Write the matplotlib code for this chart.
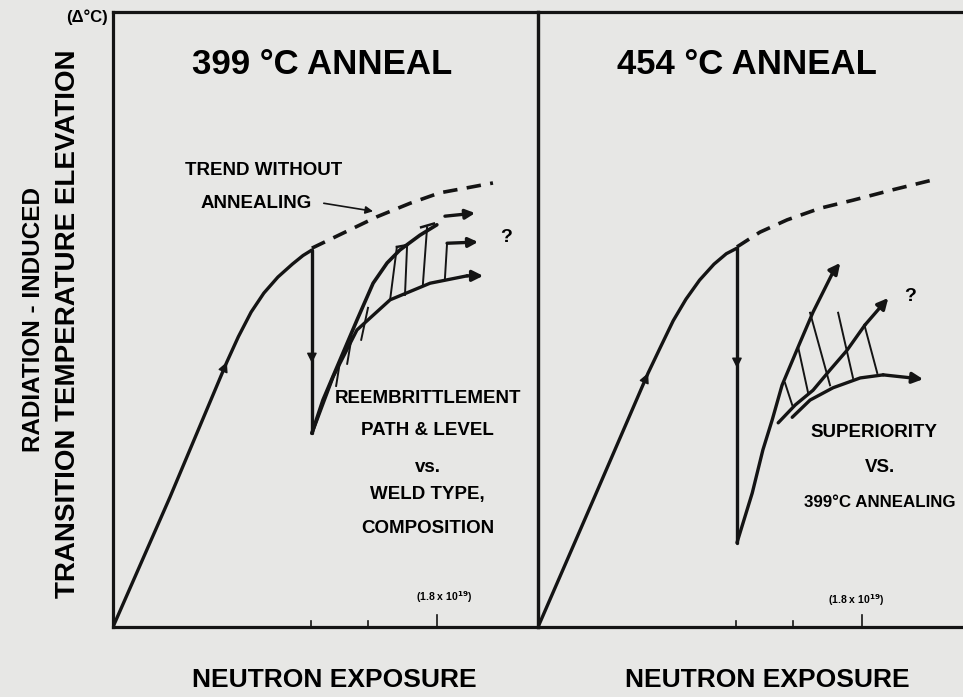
import matplotlib.pyplot as plt

plt.rcParams['font.family'] = ['Liberation Sans', 'DejaVu Sans']
plt.rcParams['font.weight'] = 'bold'

INK = '#141414'
PAPER = '#e7e7e5'

# both axes are in panel units (0-100): neutron exposure across, delta T up
exposure_ticks = [46.6, 60.0, 76.2]
tick_len = [1.0, 1.0, 2.0]

# ---- 399 C anneal ----
irr_x_399 = [0, 13.4, 26.8, 29.5, 32.5, 35.5, 38.8, 42.2, 44.7, 46.8]
irr_y_399 = [0, 21.1, 43.1, 47.2, 51.2, 54.3, 56.9, 59.0, 60.4, 61.3]
drop_399 = [61.3, 31.5]
drop_mark_399 = 42.9
trend_x_399 = [46.8, 54.6, 62.1, 69.9, 76.9, 84.0, 89.4]
trend_y_399 = [61.6, 64.2, 66.7, 68.9, 70.6, 71.5, 72.2]
low_x_399 = [46.8, 48.0, 51.8, 57.4, 65.2, 74.6, 83.3, 87.1]
low_y_399 = [31.5, 33.7, 40.7, 48.3, 53.2, 55.9, 57.1, 57.1]
up_x_399 = [46.8, 49.4, 53.4, 57.4, 61.2, 64.5, 67.5, 72.2, 76.2]
up_y_399 = [31.5, 36.9, 43.4, 49.9, 55.9, 59.2, 61.3, 63.7, 65.4]
top_arrow_399 = [(78.1, 66.8), (85.2, 67.3)]
mid_arrow_399 = [(78.6, 62.4), (85.9, 62.6)]
hatch_399 = [((53.4, 43.1), (52.5, 39.2)),
             ((56.2, 47.3), (55.1, 42.8)),
             ((60.0, 51.9), (58.4, 46.7)),
             ((66.8, 61.8), (65.2, 53.2)),
             ((69.2, 62.1), (68.7, 54.0)),
             ((73.9, 65.0), (72.9, 55.6)),
             ((78.6, 62.4), (78.1, 56.7))]
caps_399 = [((66.8, 61.8), (69.2, 62.1)), ((72.5, 65.0), (75.5, 65.6))]

# ---- 454 C anneal ----
irr_x_454 = [0, 13.2, 25.9, 28.8, 31.8, 34.8, 38.0, 41.4, 44.3, 46.8]
irr_y_454 = [0, 21.0, 41.3, 45.5, 49.8, 53.3, 56.4, 59.0, 60.7, 61.6]
drop_454 = [61.6, 13.7]
drop_mark_454 = 42.1
trend_x_454 = [46.8, 52.2, 58.6, 66.4, 74.1, 83.5, 92.9]
trend_y_454 = [61.8, 64.2, 66.2, 68.1, 69.4, 71.1, 72.7]
up_x_454 = [46.8, 50.4, 52.9, 55.1, 57.4, 61.6, 64.7, 69.4, 71.1]
up_y_454 = [13.7, 21.8, 28.8, 33.7, 39.3, 46.2, 51.2, 57.7, 59.2]
mid_x_454 = [56.5, 60.5, 64.7, 68.7, 72.7, 76.9, 82.4]
mid_y_454 = [33.2, 36.1, 38.5, 41.8, 45.0, 49.1, 53.5]
low_x_454 = [59.8, 64.0, 69.4, 75.8, 81.2, 90.6]
low_y_454 = [34.1, 36.9, 38.9, 40.5, 41.0, 40.3]
hatch_454 = [((58.1, 39.7), (59.8, 36.1)),
             ((61.2, 45.5), (63.5, 38.2)),
             ((64.0, 51.1), (68.7, 39.3)),
             ((70.6, 51.1), (74.1, 40.5)),
             ((76.9, 48.8), (79.8, 41.3))]


def head(ax, p0, p1, size=16, lw=2.4):
    ax.annotate('', xy=p1, xytext=p0,
                arrowprops=dict(arrowstyle='-|>', color=INK, lw=lw,
                                mutation_scale=size, shrinkA=0, shrinkB=0))


def line(ax, x, y, lw=2.4, **kw):
    ax.plot(x, y, color=INK, lw=lw, solid_joinstyle='round',
            solid_capstyle='round', **kw)


def base_panel(ax, irr_x, irr_y, drop, drop_mark, trend_x, trend_y):
    ax.set_xlim(0, 100)
    ax.set_ylim(0, 100)
    ax.set_facecolor('none')
    for s in ax.spines.values():
        s.set_linewidth(2.3)
        s.set_color(INK)
    ax.set_xticks([])
    ax.set_yticks([])
    for t, l in zip(exposure_ticks, tick_len):
        ax.plot([t, t], [0, l], color=INK, lw=1.2, clip_on=False)
    line(ax, irr_x, irr_y)
    line(ax, [irr_x[-1], irr_x[-1]], drop)
    ax.plot(trend_x, trend_y, color=INK, lw=2.6, ls=(0, (4, 2.6)))
    # small heads showing direction along the irradiation and anneal paths
    fx, fy = irr_x[2] - irr_x[1], irr_y[2] - irr_y[1]
    head(ax, (irr_x[2] - 0.15 * fx, irr_y[2] - 0.15 * fy), (irr_x[2], irr_y[2]),
         15, 1.0)
    head(ax, (irr_x[-1], drop_mark + 3), (irr_x[-1], drop_mark), 15, 1.0)


fig = plt.figure(figsize=(9.63, 6.97), dpi=100)
fig.patch.set_facecolor(PAPER)

ax1 = fig.add_axes([0.1173, 0.1004, 0.4414, 0.8824])
ax2 = fig.add_axes([0.5587, 0.1004, 0.4414, 0.8824])

# left panel
base_panel(ax1, irr_x_399, irr_y_399, drop_399, drop_mark_399,
           trend_x_399, trend_y_399)
line(ax1, low_x_399[:-1], low_y_399[:-1])
head(ax1, (low_x_399[-2], low_y_399[-2]), (low_x_399[-1], low_y_399[-1]))
line(ax1, up_x_399, up_y_399, lw=2.6)
for (p0, p1) in hatch_399:
    ax1.plot([p0[0], p1[0]], [p0[1], p1[1]], color=INK, lw=1.4)
for (p0, p1) in caps_399:
    ax1.plot([p0[0], p1[0]], [p0[1], p1[1]], color=INK, lw=1.8)
head(ax1, *top_arrow_399, 14)
head(ax1, *mid_arrow_399, 14)
ax1.text(92.5, 63.3, '?', fontsize=14, ha='center', va='center')

ax1.text(49.2, 91.4, '399 °C ANNEAL', fontsize=25, ha='center', va='center')
ax1.text(35.5, 74.3, 'TREND WITHOUT', fontsize=13.5, ha='center', va='center')
ax1.text(33.6, 68.9, 'ANNEALING', fontsize=13.5, ha='center', va='center')
ax1.annotate('', xy=(61.2, 67.6), xytext=(49.6, 68.9),
             arrowprops=dict(arrowstyle='-|>', color=INK, lw=1.2,
                             mutation_scale=11, shrinkA=0, shrinkB=0))
for txt, y in [('REEMBRITTLEMENT', 37.2), ('PATH & LEVEL', 32.0), ('vs.', 25.9),
               ('WELD TYPE,', 21.5), ('COMPOSITION', 16.1)]:
    ax1.text(74.0, y, txt, fontsize=13.5, ha='center', va='center', clip_on=False)
ax1.text(77.9, 4.9, '(1.8 x 10$^{19}$)', fontsize=7.5, ha='center', va='center')

# right panel
base_panel(ax2, irr_x_454, irr_y_454, drop_454, drop_mark_454,
           trend_x_454, trend_y_454)
ax2.spines['right'].set_visible(False)
line(ax2, up_x_454[:-1], up_y_454[:-1])
head(ax2, (up_x_454[-2], up_y_454[-2]), (up_x_454[-1], up_y_454[-1]))
line(ax2, mid_x_454[:-1], mid_y_454[:-1])
head(ax2, (mid_x_454[-2], mid_y_454[-2]), (mid_x_454[-1], mid_y_454[-1]))
line(ax2, low_x_454[:-1], low_y_454[:-1])
head(ax2, (low_x_454[-2], low_y_454[-2]), (low_x_454[-1], low_y_454[-1]))
for (p0, p1) in hatch_454:
    ax2.plot([p0[0], p1[0]], [p0[1], p1[1]], color=INK, lw=1.4)
ax2.text(87.5, 53.8, '?', fontsize=14, ha='center', va='center')

ax2.text(49.2, 91.4, '454 °C ANNEAL', fontsize=25, ha='center', va='center')
ax2.text(79.1, 31.7, 'SUPERIORITY', fontsize=13.5, ha='center', va='center')
ax2.text(80.5, 26.0, 'VS.', fontsize=13.5, ha='center', va='center')
ax2.text(80.5, 20.2, '399°C ANNEALING', fontsize=12.2, ha='center', va='center')
ax2.text(74.8, 4.4, '(1.8 x 10$^{19}$)', fontsize=7.5, ha='center', va='center')

# outer labels
fig.text(0.0903, 0.9756, '(Δ°C)', fontsize=12, ha='center', va='center')
fig.text(0.0353, 0.541, 'RADIATION - INDUCED', fontsize=17.5, rotation=90,
         ha='center', va='center')
fig.text(0.0706, 0.535, 'TRANSITION TEMPERATURE ELEVATION', fontsize=20,
         rotation=90, ha='center', va='center')
fig.text(0.347, 0.0244, 'NEUTRON EXPOSURE', fontsize=19, ha='center', va='center')
fig.text(0.797, 0.0244, 'NEUTRON EXPOSURE', fontsize=19, ha='center', va='center')

fig.savefig('out.png', dpi=100, facecolor=PAPER)
